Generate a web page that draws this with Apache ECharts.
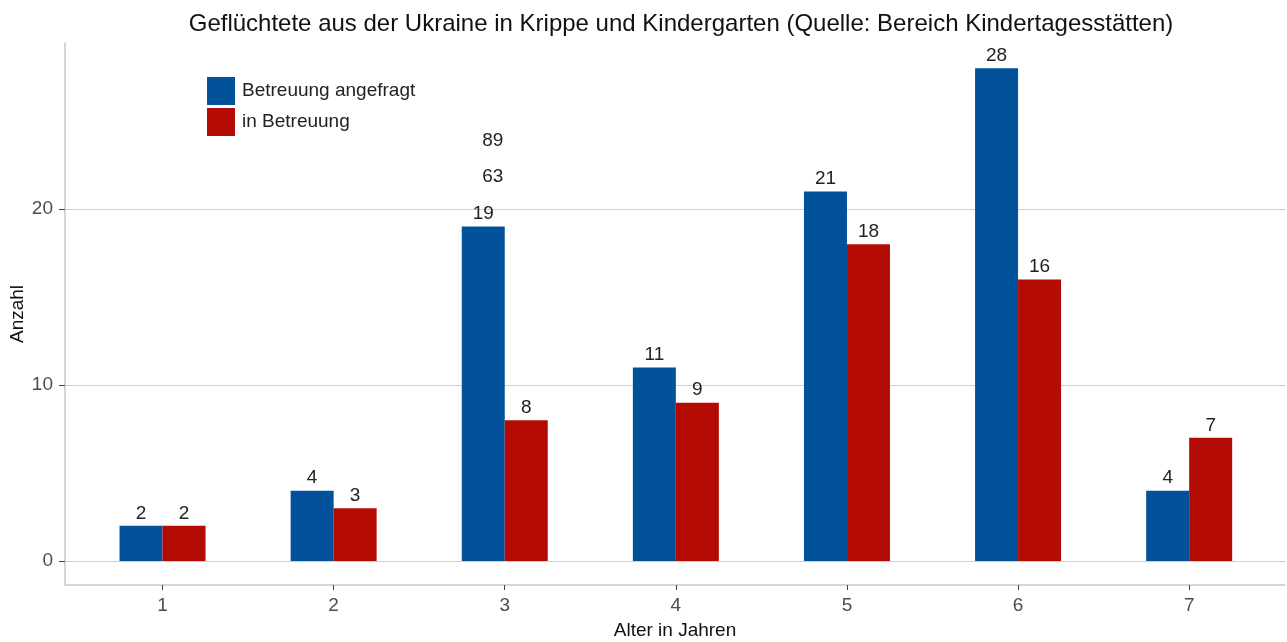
<!DOCTYPE html>
<html>
<head>
<meta charset="utf-8">
<script src="https://cdn.jsdelivr.net/npm/echarts@6/dist/echarts.min.js"></script>
<style>
    html, body { margin: 0; padding: 0; background: #fff; }
    #chart { width: 1287px; height: 642px; }
</style>
</head>
<body>
<div id="chart"></div>
<script>
    // Alter in Jahren
    var ages = [1, 2, 3, 4, 5, 6, 7];
    var angefragt = [2, 4, 19, 11, 21, 28, 4];
    var inBetreuung = [2, 3, 8, 9, 18, 16, 7];
    var yTicks = [0, 10, 20];
    // Summen-Beschriftungen (wie im Original über Alter 3)
    var sumLabels = [89, 63];
    var sumLabelY = [23.9, 21.85];
    var sumLabelX = 2.93;

    var font = 'Liberation Sans, Arial, sans-serif';

    var chart = echarts.init(document.getElementById('chart'));

    function pairs(values) {
        return values.map(function (v, i) { return [ages[i], v]; });
    }

    var option = {
        animation: false,
        textStyle: { fontFamily: font },
        title: {
            text: 'Geflüchtete aus der Ukraine in Krippe und Kindergarten (Quelle: Bereich Kindertagesstätten)',
            left: 676,
            textAlign: 'center',
            top: 7,
            textStyle: { fontSize: 24, fontWeight: 'normal', color: '#111', fontFamily: font }
        },
        legend: {
            orient: 'vertical',
            left: 202,
            top: 72,
            itemWidth: 28,
            itemHeight: 28,
            itemGap: 3,
            icon: 'rect',
            textStyle: { fontSize: 19, color: '#222', fontFamily: font, padding: [0, 0, 0, 2] },
            data: ['Betreuung angefragt', 'in Betreuung']
        },
        grid: { left: 65, right: 2, top: 43, bottom: 57, containLabel: false, outerBoundsMode: 'none' },
        xAxis: {
            type: 'value',
            min: 0.43,
            max: 7.56,
            name: 'Alter in Jahren',
            nameLocation: 'middle',
            nameGap: 36,
            nameMoveOverlap: false,
            nameTextStyle: { fontSize: 19, color: '#111', fontFamily: font },
            axisLine: { show: true, onZero: false, lineStyle: { color: '#c8c8c8', width: 1.5 } },
            axisTick: { show: true, customValues: ages, length: 5, lineStyle: { color: '#444' } },
            axisLabel: { customValues: ages, fontSize: 19, color: '#4d4d4d', margin: 11 },
            splitLine: { show: false }
        },
        yAxis: {
            type: 'value',
            min: -1.36,
            max: 29.43,
            name: 'Anzahl',
            nameLocation: 'middle',
            nameGap: 38,
            nameMoveOverlap: false,
            nameTextStyle: { fontSize: 19, color: '#111', fontFamily: font },
            axisLine: { show: true, onZero: false, lineStyle: { color: '#c8c8c8', width: 1.5 } },
            axisTick: { show: true, customValues: yTicks, length: 6, lineStyle: { color: '#444' } },
            axisLabel: { customValues: yTicks, fontSize: 19, color: '#4d4d4d', margin: 12 },
            splitLine: { show: true, lineStyle: { color: '#cfcfcf', width: 1.2 } }
        },
        series: [
            {
                name: 'Betreuung angefragt',
                type: 'bar',
                barWidth: 43,
                barGap: '0%',
                itemStyle: { color: '#01529b' },
                label: { show: true, position: 'top', fontSize: 19, color: '#222', distance: 3,
                    formatter: function (p) { return p.value[1]; } },
                data: pairs(angefragt)
            },
            {
                name: 'in Betreuung',
                type: 'bar',
                barWidth: 43,
                barGap: '0%',
                itemStyle: { color: '#b40a04' },
                label: { show: true, position: 'top', fontSize: 19, color: '#222', distance: 3,
                    formatter: function (p) { return p.value[1]; } },
                data: pairs(inBetreuung)
            },
            {
                name: 'Summe',
                type: 'scatter',
                symbolSize: 0,
                silent: true,
                itemStyle: { opacity: 1 },
                label: { show: true, position: 'inside', fontSize: 19, color: '#222',
                    formatter: function (p) { return p.value[2]; } },
                data: sumLabels.map(function (v, i) { return [sumLabelX, sumLabelY[i], v]; })
            }
        ]
    };

    chart.setOption(option);
</script>
</body>
</html>
